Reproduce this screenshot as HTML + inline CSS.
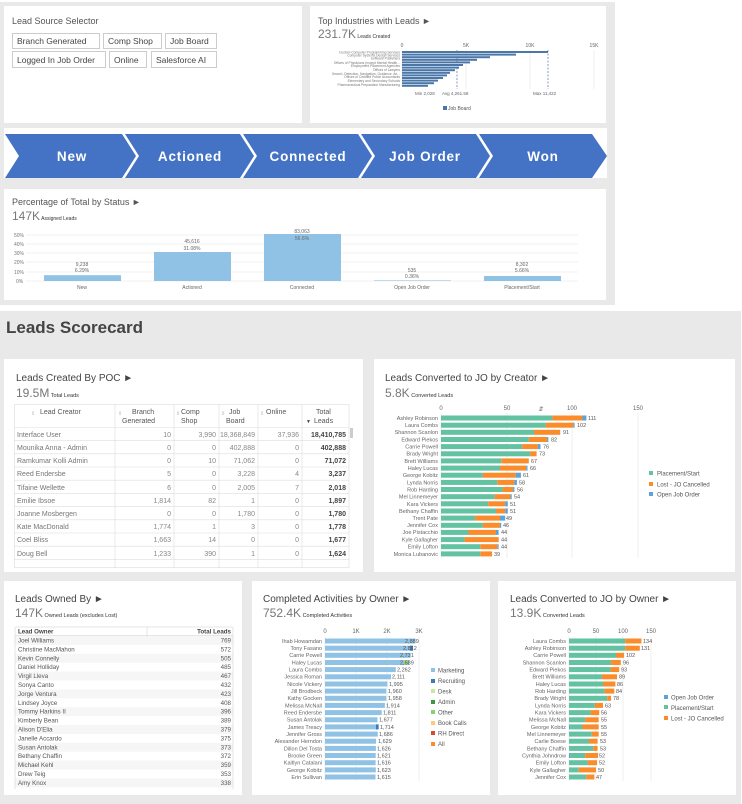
<!DOCTYPE html>
<html><head><meta charset="utf-8"><style>
html,body{margin:0;padding:0;background:#fff;}
svg{display:block;font-family:"Liberation Sans",sans-serif;}
</style></head><body>
<svg width="742" height="804" viewBox="0 0 742 804" xmlns="http://www.w3.org/2000/svg">
<!-- top gray region -->
<rect x="0" y="2" width="615" height="303" fill="#e9e9e9"/>
<rect x="4" y="6" width="298" height="117" fill="#fff"/>
<rect x="310" y="6" width="296" height="117" fill="#fff"/>
<rect x="4" y="128" width="603" height="50" fill="#fff"/>
<rect x="4" y="189" width="602" height="111" fill="#fff"/>

<!-- Lead Source Selector -->
<text x="12" y="24" font-size="9" fill="#555">Lead Source Selector</text>
<g font-size="8.5" fill="#444">
<rect x="12.5" y="33.5" width="87" height="15" fill="#fff" stroke="#ccc"/><text x="17" y="44">Branch Generated</text>
<rect x="103.5" y="33.5" width="58" height="15" fill="#fff" stroke="#ccc"/><text x="108" y="44">Comp Shop</text>
<rect x="165.5" y="33.5" width="51" height="15" fill="#fff" stroke="#ccc"/><text x="170" y="44">Job Board</text>
<rect x="12.5" y="51.5" width="93" height="16" fill="#fff" stroke="#ccc"/><text x="17" y="63">Logged In Job Order</text>
<rect x="109.5" y="51.5" width="37" height="16" fill="#fff" stroke="#ccc"/><text x="114" y="63">Online</text>
<rect x="151.5" y="51.5" width="65" height="16" fill="#fff" stroke="#ccc"/><text x="156" y="63">Salesforce AI</text>
</g>

<!-- Top industries -->
<text x="318" y="24" font-size="9" fill="#555">Top Industries with Leads ►</text>
<text x="318" y="38" font-size="12" fill="#777">231.7K<tspan font-size="5" fill="#333"> Leads Created</tspan></text>
<g font-size="5" fill="#666" text-anchor="middle">
<text x="402" y="47">0</text><text x="466" y="47">5K</text><text x="530" y="47">10K</text><text x="594" y="47">15K</text></g>
<g stroke="#e5e5e5" stroke-width="0.6"><line x1="466" y1="50" x2="466" y2="89"/><line x1="530" y1="50" x2="530" y2="89"/><line x1="594" y1="50" x2="594" y2="89"/></g>
<g fill="#4a76a8">
<rect x="402" y="51" width="146" height="2"/><rect x="402" y="53.6" width="114" height="2"/><rect x="402" y="56.2" width="88" height="2"/><rect x="402" y="58.8" width="75" height="2"/><rect x="402" y="61.4" width="68" height="2"/><rect x="402" y="64" width="61" height="2"/><rect x="402" y="66.6" width="57" height="2"/><rect x="402" y="69.2" width="53" height="2"/><rect x="402" y="71.8" width="48" height="2"/><rect x="402" y="74.4" width="45" height="2"/><rect x="402" y="77" width="41" height="2"/><rect x="402" y="79.6" width="36" height="2"/><rect x="402" y="82.2" width="32" height="2"/><rect x="402" y="84.8" width="26" height="2"/>
</g>
<g stroke="#4a76a8" stroke-width="0.7" stroke-dasharray="2,1.5"><line x1="457" y1="50" x2="457" y2="89"/><line x1="548" y1="50" x2="548" y2="89"/></g>
<g font-size="3.3" fill="#777" text-anchor="end">
<text x="400" y="53.5">Custom Computer Programming Services</text><text x="400" y="56.5">Computer Systems Design Services</text><text x="400" y="59.5">Software Publishers</text><text x="400" y="64">Offices of Physicians (except Mental Health...</text><text x="400" y="67">Employment Placement Agencies</text><text x="400" y="71">Offices of Lawyers</text><text x="400" y="75">Search, Detection, Navigation, Guidance, Ae...</text><text x="400" y="78">Offices of Certified Public Accountants</text><text x="400" y="82">Elementary and Secondary Schools</text><text x="400" y="86">Pharmaceutical Preparation Manufacturing</text></g>
<g font-size="4.5" fill="#666"><text x="415" y="95">Min 2,028</text><text x="442" y="95">Avg 4,261.58</text><text x="533" y="95">Max 11,422</text></g>
<rect x="443" y="106" width="4" height="4" fill="#4a76a8"/><text x="448" y="110" font-size="5" fill="#555">Job Board</text>

<!-- chevrons -->
<g fill="#4472c4">
<polygon points="5,134 122,134 136,156 122,178 5,178 19,156"/>
<polygon points="125,134 240,134 254,156 240,178 125,178 139,156"/>
<polygon points="243,134 358,134 372,156 358,178 243,178 257,156"/>
<polygon points="361,134 476,134 490,156 476,178 361,178 375,156"/>
<polygon points="479,134 592,134 607,156 592,178 479,178 493,156"/>
</g>
<g font-size="13.5" font-weight="bold" fill="#fff" text-anchor="middle" letter-spacing="0.8">
<text x="72" y="161">New</text><text x="190" y="161">Actioned</text><text x="308" y="161">Connected</text><text x="425" y="161">Job Order</text><text x="543" y="161">Won</text></g>

<!-- Percentage by status -->
<text x="12" y="205" font-size="9" fill="#555">Percentage of Total by Status ►</text>
<text x="12" y="220" font-size="12" fill="#777">147K<tspan font-size="5" fill="#333"> Assigned Leads</tspan></text>
<g stroke="#e2e2e2" stroke-width="0.6"><line x1="26" y1="235" x2="578" y2="235"/><line x1="26" y1="244" x2="578" y2="244"/><line x1="26" y1="253" x2="578" y2="253"/><line x1="26" y1="262" x2="578" y2="262"/><line x1="26" y1="272" x2="578" y2="272"/><line x1="26" y1="281" x2="578" y2="281"/></g>
<g font-size="5" fill="#777"><text x="14" y="237">50%</text><text x="14" y="246">40%</text><text x="14" y="255">30%</text><text x="14" y="264">20%</text><text x="14" y="274">10%</text><text x="16" y="283">0%</text></g>
<g fill="#8fc2e5">
<rect x="44" y="275.2" width="77" height="5.8"/><rect x="154" y="252" width="77" height="29"/><rect x="264" y="234" width="77" height="47"/><rect x="374" y="280.4" width="77" height="0.6"/><rect x="484" y="276" width="77" height="5"/></g>
<g font-size="5" fill="#666" text-anchor="middle">
<text x="82" y="266">9,238</text><text x="82" y="272">6.29%</text>
<text x="192" y="243">45,616</text><text x="192" y="250">31.08%</text>
<text x="302" y="233">83,063</text><text x="302" y="240">56.6%</text>
<text x="412" y="272">535</text><text x="412" y="278">0.36%</text>
<text x="522" y="266">8,302</text><text x="522" y="272">5.66%</text>
<text x="82" y="289">New</text><text x="192" y="289">Actioned</text><text x="302" y="289">Connected</text><text x="412" y="289">Open Job Order</text><text x="522" y="289">Placement/Start</text></g>

<!-- Scorecard -->
<rect x="0" y="311" width="741" height="493" fill="#e9e9e9"/>
<text x="6" y="333" font-size="17" font-weight="bold" fill="#444">Leads Scorecard</text>
<rect x="4" y="359" width="359" height="213" fill="#fff"/>
<rect x="374" y="359" width="361" height="213" fill="#fff"/>
<rect x="4" y="581" width="238" height="214" fill="#fff"/>
<rect x="252" y="581" width="238" height="214" fill="#fff"/>
<rect x="498" y="581" width="238" height="214" fill="#fff"/>

<!-- Leads created by POC -->
<text x="16" y="381" font-size="10" fill="#444">Leads Created By POC ►</text>
<text x="16" y="397" font-size="12" fill="#777">19.5M<tspan font-size="5.5" fill="#333"> Total Leads</tspan></text>
<g stroke="#ddd" stroke-width="0.6" fill="none">
<rect x="14.5" y="404.5" width="334.5" height="163"/>
<line x1="115" y1="404" x2="115" y2="568"/><line x1="174" y1="404" x2="174" y2="568"/><line x1="219" y1="404" x2="219" y2="568"/><line x1="258" y1="404" x2="258" y2="568"/><line x1="302" y1="404" x2="302" y2="568"/>
<line x1="14" y1="427.5" x2="349" y2="427.5"/><line x1="14" y1="440.6" x2="349" y2="440.6"/><line x1="14" y1="453.8" x2="349" y2="453.8"/><line x1="14" y1="467" x2="349" y2="467"/><line x1="14" y1="480.2" x2="349" y2="480.2"/><line x1="14" y1="493.4" x2="349" y2="493.4"/><line x1="14" y1="506.6" x2="349" y2="506.6"/><line x1="14" y1="519.8" x2="349" y2="519.8"/><line x1="14" y1="533" x2="349" y2="533"/><line x1="14" y1="546.2" x2="349" y2="546.2"/><line x1="14" y1="559.4" x2="349" y2="559.4"/>
</g>
<rect x="350" y="428" width="3" height="10" fill="#ccc"/>
<g font-size="7" fill="#555">
<text x="40" y="414">Lead Creator</text>
<text x="132" y="414">Branch</text><text x="122" y="423">Generated</text>
<text x="181" y="414">Comp</text><text x="181" y="423">Shop</text>
<text x="229" y="414">Job</text><text x="226" y="423">Board</text>
<text x="266" y="414">Online</text>
<text x="316" y="414">Total</text><text x="314" y="423">Leads</text>
</g>
<g font-size="5" fill="#bbb"><text x="31" y="415">⇕</text><text x="118" y="415">⇕</text><text x="176" y="415">⇕</text><text x="221" y="415">⇕</text><text x="260" y="415">⇕</text><text x="306" y="423" fill="#444">▼</text></g>
<g font-size="7" fill="#777">
<text x="17" y="437">Interface User</text><text x="17" y="450">Mounika Anna - Admin</text><text x="17" y="463">Ramkumar Kolli Admin</text><text x="17" y="476">Reed Endersbe</text><text x="17" y="490">Tifaine Wellette</text><text x="17" y="503">Emilie Ibsoe</text><text x="17" y="516">Joanne Mosbergen</text><text x="17" y="529">Kate MacDonald</text><text x="17" y="542">Coel Bliss</text><text x="17" y="556">Doug Bell</text>
</g>
<g font-size="7" fill="#888" text-anchor="end">
<text x="171" y="437">10</text><text x="216" y="437">3,990</text><text x="255" y="437">18,368,849</text><text x="299" y="437">37,936</text>
<text x="171" y="450">0</text><text x="216" y="450">0</text><text x="255" y="450">402,888</text><text x="299" y="450">0</text>
<text x="171" y="463">0</text><text x="216" y="463">10</text><text x="255" y="463">71,062</text><text x="299" y="463">0</text>
<text x="171" y="476">5</text><text x="216" y="476">0</text><text x="255" y="476">3,228</text><text x="299" y="476">4</text>
<text x="171" y="490">6</text><text x="216" y="490">0</text><text x="255" y="490">2,005</text><text x="299" y="490">7</text>
<text x="171" y="503">1,814</text><text x="216" y="503">82</text><text x="255" y="503">1</text><text x="299" y="503">0</text>
<text x="171" y="516">0</text><text x="216" y="516">0</text><text x="255" y="516">1,780</text><text x="299" y="516">0</text>
<text x="171" y="529">1,774</text><text x="216" y="529">1</text><text x="255" y="529">3</text><text x="299" y="529">0</text>
<text x="171" y="542">1,663</text><text x="216" y="542">14</text><text x="255" y="542">0</text><text x="299" y="542">0</text>
<text x="171" y="556">1,233</text><text x="216" y="556">390</text><text x="255" y="556">1</text><text x="299" y="556">0</text>
</g>
<g font-size="7" fill="#444" font-weight="bold" text-anchor="end">
<text x="346" y="437">18,410,785</text><text x="346" y="450">402,888</text><text x="346" y="463">71,072</text><text x="346" y="476">3,237</text><text x="346" y="490">2,018</text><text x="346" y="503">1,897</text><text x="346" y="516">1,780</text><text x="346" y="529">1,778</text><text x="346" y="542">1,677</text><text x="346" y="556">1,624</text>
</g>

<!-- Leads converted to JO by creator -->
<text x="385" y="381" font-size="10" fill="#444">Leads Converted to JO by Creator ►</text>
<text x="385" y="397" font-size="12" fill="#777">5.8K<tspan font-size="5.5" fill="#333"> Converted Leads</tspan></text>
<g font-size="6" fill="#666" text-anchor="middle"><text x="441" y="410">0</text><text x="507" y="410">50</text><text x="572" y="410">100</text><text x="638" y="410">150</text><text x="541" y="411">⇵</text></g>
<g stroke="#e5e5e5" stroke-width="0.6"><line x1="441" y1="413" x2="441" y2="558"/><line x1="507" y1="413" x2="507" y2="558"/><line x1="572" y1="413" x2="572" y2="558"/><line x1="638" y1="413" x2="638" y2="558"/></g>
<g fill="#62c2a2">
<rect x="441" y="415.5" width="111.4" height="5"/><rect x="441" y="422.7" width="104.8" height="5"/><rect x="441" y="429.8" width="93" height="5"/><rect x="441" y="437" width="87.8" height="5"/><rect x="441" y="444.1" width="81.2" height="5"/><rect x="441" y="451.3" width="89.1" height="5"/><rect x="441" y="458.4" width="60.3" height="5"/><rect x="441" y="465.6" width="59" height="5"/><rect x="441" y="472.7" width="41.9" height="5"/><rect x="441" y="479.9" width="56.3" height="5"/><rect x="441" y="487" width="61.6" height="5"/><rect x="441" y="494.2" width="53.7" height="5"/><rect x="441" y="501.3" width="47.2" height="5"/><rect x="441" y="508.5" width="55" height="5"/><rect x="441" y="515.6" width="34.1" height="5"/><rect x="441" y="522.8" width="41.9" height="5"/><rect x="441" y="529.9" width="27.5" height="5"/><rect x="441" y="537.1" width="23.6" height="5"/><rect x="441" y="544.2" width="39.3" height="5"/><rect x="441" y="551.4" width="39.3" height="5"/>
</g>
<g fill="#fb8c2c">
<rect x="552.4" y="415.5" width="30.1" height="5"/><rect x="545.8" y="422.7" width="27.5" height="5"/><rect x="534" y="429.8" width="26.2" height="5"/><rect x="528.8" y="437" width="18.3" height="5"/><rect x="522.2" y="444.1" width="15.7" height="5"/><rect x="530.1" y="451.3" width="6.5" height="5"/><rect x="501.3" y="458.4" width="27.5" height="5"/><rect x="500" y="465.6" width="26.2" height="5"/><rect x="482.9" y="472.7" width="32.8" height="5"/><rect x="497.3" y="479.9" width="17" height="5"/><rect x="502.6" y="487" width="10.5" height="5"/><rect x="494.7" y="494.2" width="15.7" height="5"/><rect x="488.2" y="501.3" width="17" height="5"/><rect x="496" y="508.5" width="9.2" height="5"/><rect x="475.1" y="515.6" width="24.9" height="5"/><rect x="482.9" y="522.8" width="17" height="5"/><rect x="468.5" y="529.9" width="27.5" height="5"/><rect x="464.6" y="537.1" width="34.1" height="5"/><rect x="480.3" y="544.2" width="17" height="5"/><rect x="480.3" y="551.4" width="11.8" height="5"/>
</g>
<g fill="#5ba3d8">
<rect x="582.5" y="415.5" width="3.9" height="5"/><rect x="573.3" y="422.7" width="1.3" height="5"/><rect x="547.1" y="437" width="1.3" height="5"/><rect x="537.9" y="444.1" width="2.6" height="5"/><rect x="526.2" y="465.6" width="1.3" height="5"/><rect x="515.7" y="472.7" width="5.2" height="5"/><rect x="514.3" y="479.9" width="2.6" height="5"/><rect x="513.1" y="487" width="1.3" height="5"/><rect x="510.4" y="494.2" width="1.3" height="5"/><rect x="505.2" y="501.3" width="2.6" height="5"/><rect x="505.2" y="508.5" width="2.6" height="5"/><rect x="500" y="515.6" width="5.2" height="5"/><rect x="499.9" y="522.8" width="1.3" height="5"/><rect x="496" y="529.9" width="2.6" height="5"/><rect x="497.3" y="544.2" width="1.3" height="5"/>
</g>
<g font-size="5.5" fill="#666" text-anchor="end">
<text x="438" y="420">Ashley Robinson</text><text x="438" y="427">Laura Combs</text><text x="438" y="434">Shannon Scanlon</text><text x="438" y="441.5">Edward Piekos</text><text x="438" y="448.5">Carrie Powell</text><text x="438" y="455.5">Brady Wright</text><text x="438" y="463">Brett Williams</text><text x="438" y="470">Haley Lucas</text><text x="438" y="477">George Kobitz</text><text x="438" y="484.5">Lynda Norris</text><text x="438" y="491.5">Rob Harding</text><text x="438" y="498.5">Mel Linnemeyer</text><text x="438" y="506">Kara Vickers</text><text x="438" y="513">Bethany Chaffin</text><text x="438" y="520">Trent Pate</text><text x="438" y="527">Jennifer Cox</text><text x="438" y="534">Joe Pistacchio</text><text x="438" y="541.5">Kyle Gallagher</text><text x="438" y="548.5">Emily Lofton</text><text x="438" y="556">Monica Lubanovic</text>
</g>
<g font-size="5.5" fill="#555">
<text x="588" y="420">111</text><text x="577" y="427">102</text><text x="563" y="434">91</text><text x="551" y="441.5">82</text><text x="543" y="448.5">76</text><text x="539" y="455.5">73</text><text x="531" y="463">67</text><text x="530" y="470">66</text><text x="523" y="477">61</text><text x="519" y="484.5">58</text><text x="517" y="491.5">56</text><text x="514" y="498.5">54</text><text x="510" y="506">51</text><text x="510" y="513">51</text><text x="506" y="520">49</text><text x="503" y="527">46</text><text x="501" y="534">44</text><text x="501" y="541.5">44</text><text x="501" y="548.5">44</text><text x="494" y="556">39</text>
</g>
<g font-size="6" fill="#555">
<rect x="649" y="471" width="4" height="4" fill="#62c2a2"/><text x="657" y="475.5">Placement/Start</text>
<rect x="649" y="482" width="4" height="4" fill="#fb8c2c"/><text x="657" y="486.5">Lost - JO Cancelled</text>
<rect x="649" y="492" width="4" height="4" fill="#5ba3d8"/><text x="657" y="496.5">Open Job Order</text>
</g>

<!-- Leads owned by -->
<text x="15" y="602" font-size="10" fill="#444">Leads Owned By ►</text>
<text x="15" y="617" font-size="12" fill="#777">147K<tspan font-size="5.5" fill="#333"> Owned Leads (excludes Lost)</tspan></text>
<g fill="#f6f6f6"><rect x="15" y="636" width="218" height="8.9"/><rect x="15" y="653.8" width="218" height="8.9"/><rect x="15" y="671.6" width="218" height="8.9"/><rect x="15" y="689.4" width="218" height="8.9"/><rect x="15" y="707.2" width="218" height="8.9"/><rect x="15" y="725" width="218" height="8.9"/><rect x="15" y="742.8" width="218" height="8.9"/><rect x="15" y="760.6" width="218" height="8.9"/><rect x="15" y="778.4" width="218" height="8.9"/></g>
<g stroke="#ccc" stroke-width="0.5"><line x1="15" y1="627" x2="15" y2="789"/><line x1="233" y1="627" x2="233" y2="789"/><line x1="147" y1="627" x2="147" y2="636"/><line x1="15" y1="627" x2="233" y2="627"/><line x1="15" y1="635.5" x2="233" y2="635.5"/></g>
<g font-size="6.2" fill="#444"><text x="18" y="633.5" font-weight="bold">Lead Owner</text><text x="231" y="633.5" font-weight="bold" text-anchor="end">Total Leads</text></g>
<g font-size="6.2" fill="#555">
<text x="18" y="642.5">Joel Williams</text><text x="18" y="651.4">Christine MacMahon</text><text x="18" y="660.3">Kevin Connelly</text><text x="18" y="669.2">Daniel Holliday</text><text x="18" y="678.1">Virgil Lleva</text><text x="18" y="687">Sonya Canto</text><text x="18" y="695.9">Jorge Ventura</text><text x="18" y="704.8">Lindsey Joyce</text><text x="18" y="713.7">Tommy Harkins II</text><text x="18" y="722.6">Kimberly Bean</text><text x="18" y="731.5">Alison D'Elia</text><text x="18" y="740.4">Janelle Accardo</text><text x="18" y="749.3">Susan Antolak</text><text x="18" y="758.2">Bethany Chaffin</text><text x="18" y="767.1">Michael Kehl</text><text x="18" y="776">Drew Teig</text><text x="18" y="784.9">Amy Knox</text>
</g>
<g font-size="6.2" fill="#555" text-anchor="end">
<text x="231" y="642.5">769</text><text x="231" y="651.4">572</text><text x="231" y="660.3">505</text><text x="231" y="669.2">485</text><text x="231" y="678.1">467</text><text x="231" y="687">432</text><text x="231" y="695.9">423</text><text x="231" y="704.8">408</text><text x="231" y="713.7">396</text><text x="231" y="722.6">389</text><text x="231" y="731.5">379</text><text x="231" y="740.4">375</text><text x="231" y="749.3">373</text><text x="231" y="758.2">372</text><text x="231" y="767.1">359</text><text x="231" y="776">353</text><text x="231" y="784.9">338</text>
</g>

<!-- Completed activities -->
<text x="263" y="602" font-size="10" fill="#444">Completed Activities by Owner ►</text>
<text x="263" y="617" font-size="12" fill="#777">752.4K<tspan font-size="5.5" fill="#333"> Completed Activities</tspan></text>
<g font-size="6" fill="#666" text-anchor="middle"><text x="325" y="633">0</text><text x="356" y="633">1K</text><text x="387" y="633">2K</text><text x="419" y="633">3K</text></g>
<g stroke="#e5e5e5" stroke-width="0.6"><line x1="325" y1="636" x2="325" y2="781"/><line x1="356" y1="636" x2="356" y2="781"/><line x1="387" y1="636" x2="387" y2="781"/><line x1="419" y1="636" x2="419" y2="781"/></g>
<g fill="#8fc2e5">
<rect x="325" y="638.5" width="90.4" height="5"/><rect x="325" y="645.7" width="88" height="5"/><rect x="325" y="652.8" width="85.5" height="5"/><rect x="325" y="660" width="84.2" height="5"/><rect x="325" y="667.1" width="70.8" height="5"/><rect x="325" y="674.3" width="66.1" height="5"/><rect x="325" y="681.5" width="62.4" height="5"/><rect x="325" y="688.6" width="61.3" height="5"/><rect x="325" y="695.8" width="61.3" height="5"/><rect x="325" y="702.9" width="59.9" height="5"/><rect x="325" y="710.1" width="56.7" height="5"/><rect x="325" y="717.3" width="52.5" height="5"/><rect x="325" y="724.4" width="53.6" height="5"/><rect x="325" y="731.6" width="52.8" height="5"/><rect x="325" y="738.7" width="51" height="5"/><rect x="325" y="745.9" width="50.9" height="5"/><rect x="325" y="753" width="50.7" height="5"/><rect x="325" y="760.2" width="50.6" height="5"/><rect x="325" y="767.4" width="50.8" height="5"/><rect x="325" y="774.5" width="50.5" height="5"/>
</g>
<rect x="410" y="645.7" width="3" height="5" fill="#3d7ab8"/><rect x="404" y="660" width="3" height="5" fill="#a6d96a"/><rect x="376" y="724.4" width="2.6" height="5" fill="#3d7ab8"/>
<g font-size="5.5" fill="#666" text-anchor="end">
<text x="322" y="643">Ihab Howamdan</text><text x="322" y="650">Tony Fasano</text><text x="322" y="657">Carrie Powell</text><text x="322" y="664.5">Haley Lucas</text><text x="322" y="671.5">Laura Combs</text><text x="322" y="678.5">Jessica Roman</text><text x="322" y="686">Nicole Vickery</text><text x="322" y="693">Jill Brodbeck</text><text x="322" y="700">Kathy Gocken</text><text x="322" y="707.5">Melissa McNall</text><text x="322" y="714.5">Reed Endersbe</text><text x="322" y="721.5">Susan Antolak</text><text x="322" y="729">James Treacy</text><text x="322" y="736">Jennifer Gross</text><text x="322" y="743">Alexander Herndon</text><text x="322" y="750.5">Dillon Del Tosta</text><text x="322" y="757.5">Brooke Green</text><text x="322" y="764.5">Kaitlyn Catalani</text><text x="322" y="772">George Kobitz</text><text x="322" y="779">Erin Sullivan</text>
</g>
<g font-size="5.5" fill="#555">
<text x="405" y="643">2,889</text><text x="403" y="650">2,812</text><text x="400" y="657">2,731</text><text x="400" y="664.5">2,689</text><text x="397" y="671.5">2,262</text><text x="392" y="678.5">2,111</text><text x="389" y="686">1,995</text><text x="388" y="693">1,960</text><text x="388" y="700">1,958</text><text x="386" y="707.5">1,914</text><text x="383" y="714.5">1,811</text><text x="379" y="721.5">1,677</text><text x="380" y="729">1,714</text><text x="379" y="736">1,686</text><text x="378" y="743">1,629</text><text x="377" y="750.5">1,626</text><text x="377" y="757.5">1,621</text><text x="377" y="764.5">1,616</text><text x="377" y="772">1,623</text><text x="377" y="779">1,615</text>
</g>
<g font-size="6" fill="#555">
<rect x="431" y="668" width="4" height="4" fill="#8fc2e5"/><text x="438" y="672.5">Marketing</text>
<rect x="431" y="679" width="4" height="4" fill="#3d7ab8"/><text x="438" y="683">Recruiting</text>
<rect x="431" y="689" width="4" height="4" fill="#c7e9a0"/><text x="438" y="693.5">Desk</text>
<rect x="431" y="700" width="4" height="4" fill="#3a9a3a"/><text x="438" y="704">Admin</text>
<rect x="431" y="710" width="4" height="4" fill="#8ccf6e"/><text x="438" y="714.5">Other</text>
<rect x="431" y="721" width="4" height="4" fill="#fdc97c"/><text x="438" y="725">Book Calls</text>
<rect x="431" y="731" width="4" height="4" fill="#e0462a"/><text x="438" y="735.5">RH Direct</text>
<rect x="431" y="742" width="4" height="4" fill="#fb8c2c"/><text x="438" y="746">All</text>
</g>

<!-- Leads converted to JO by owner -->
<text x="510" y="602" font-size="10" fill="#444">Leads Converted to JO by Owner ►</text>
<text x="510" y="617" font-size="12" fill="#777">13.9K<tspan font-size="5.5" fill="#333"> Converted Leads</tspan></text>
<g font-size="6" fill="#666" text-anchor="middle"><text x="569" y="633">0</text><text x="596" y="633">50</text><text x="623" y="633">100</text><text x="651" y="633">150</text></g>
<g stroke="#e5e5e5" stroke-width="0.6"><line x1="569" y1="636" x2="569" y2="781"/><line x1="596" y1="636" x2="596" y2="781"/><line x1="623" y1="636" x2="623" y2="781"/><line x1="651" y1="636" x2="651" y2="781"/></g>
<g fill="#62c2a2">
<rect x="569" y="638.5" width="56.2" height="5"/><rect x="569" y="645.7" width="56.2" height="5"/><rect x="569" y="652.8" width="47" height="5"/><rect x="569" y="660" width="42.1" height="5"/><rect x="569" y="667.1" width="41.6" height="5"/><rect x="569" y="674.3" width="32.9" height="5"/><rect x="569" y="681.5" width="34" height="5"/><rect x="569" y="688.6" width="35.6" height="5"/><rect x="569" y="695.8" width="38.3" height="5"/><rect x="569" y="702.9" width="25.9" height="5"/><rect x="569" y="710.1" width="21.6" height="5"/><rect x="569" y="717.3" width="16.2" height="5"/><rect x="570.1" y="724.4" width="12.4" height="5"/><rect x="569" y="731.6" width="22.7" height="5"/><rect x="569" y="738.7" width="20" height="5"/><rect x="569" y="745.9" width="24.3" height="5"/><rect x="570.1" y="753" width="15.1" height="5"/><rect x="569" y="760.2" width="18.9" height="5"/><rect x="569" y="767.4" width="9.7" height="5"/><rect x="569" y="774.5" width="17.3" height="5"/>
</g>
<g fill="#fb8c2c">
<rect x="625.2" y="638.5" width="16.2" height="5"/><rect x="625.2" y="645.7" width="14.6" height="5"/><rect x="616" y="652.8" width="8.1" height="5"/><rect x="611.1" y="660" width="9.7" height="5"/><rect x="610.6" y="667.1" width="8.6" height="5"/><rect x="601.9" y="674.3" width="15.1" height="5"/><rect x="603" y="681.5" width="12.4" height="5"/><rect x="604.6" y="688.6" width="9.7" height="5"/><rect x="607.3" y="695.8" width="3.8" height="5"/><rect x="594.9" y="702.9" width="8.1" height="5"/><rect x="590.6" y="710.1" width="8.6" height="5"/><rect x="585.2" y="717.3" width="13.5" height="5"/><rect x="582.5" y="724.4" width="16.2" height="5"/><rect x="591.7" y="731.6" width="7" height="5"/><rect x="589" y="738.7" width="8.6" height="5"/><rect x="593.3" y="745.9" width="4.3" height="5"/><rect x="585.2" y="753" width="12.9" height="5"/><rect x="587.9" y="760.2" width="9.2" height="5"/><rect x="578.7" y="767.4" width="17.3" height="5"/><rect x="586.3" y="774.5" width="8.1" height="5"/>
</g>
<g fill="#5ba3d8"><rect x="569" y="724.4" width="1.1" height="5"/><rect x="569" y="753" width="1.1" height="5"/></g>
<g font-size="5.5" fill="#666" text-anchor="end">
<text x="566" y="643">Laura Combs</text><text x="566" y="650">Ashley Robinson</text><text x="566" y="657">Carrie Powell</text><text x="566" y="664.5">Shannon Scanlon</text><text x="566" y="671.5">Edward Piekos</text><text x="566" y="678.5">Brett Williams</text><text x="566" y="686">Haley Lucas</text><text x="566" y="693">Rob Harding</text><text x="566" y="700">Brady Wright</text><text x="566" y="707.5">Lynda Norris</text><text x="566" y="714.5">Kara Vickers</text><text x="566" y="721.5">Melissa McNall</text><text x="566" y="729">George Kobitz</text><text x="566" y="736">Mel Linnemeyer</text><text x="566" y="743">Carlie Boese</text><text x="566" y="750.5">Bethany Chaffin</text><text x="566" y="757.5">Cynthia Johndrow</text><text x="566" y="764.5">Emily Lofton</text><text x="566" y="772">Kyle Gallagher</text><text x="566" y="779">Jennifer Cox</text>
</g>
<g font-size="5.5" fill="#555">
<text x="643" y="643">134</text><text x="641" y="650">131</text><text x="626" y="657">102</text><text x="623" y="664.5">96</text><text x="621" y="671.5">93</text><text x="619" y="678.5">89</text><text x="617" y="686">86</text><text x="616" y="693">84</text><text x="613" y="700">78</text><text x="605" y="707.5">63</text><text x="601" y="714.5">56</text><text x="601" y="721.5">55</text><text x="601" y="729">55</text><text x="601" y="736">55</text><text x="600" y="743">53</text><text x="600" y="750.5">53</text><text x="599" y="757.5">52</text><text x="599" y="764.5">52</text><text x="598" y="772">50</text><text x="596" y="779">47</text>
</g>
<g font-size="6" fill="#555">
<rect x="664" y="695" width="4" height="4" fill="#5ba3d8"/><text x="671" y="699.5">Open Job Order</text>
<rect x="664" y="705" width="4" height="4" fill="#62c2a2"/><text x="671" y="710">Placement/Start</text>
<rect x="664" y="716" width="4" height="4" fill="#fb8c2c"/><text x="671" y="720.5">Lost - JO Cancelled</text>
</g>
</svg>
</body></html>
